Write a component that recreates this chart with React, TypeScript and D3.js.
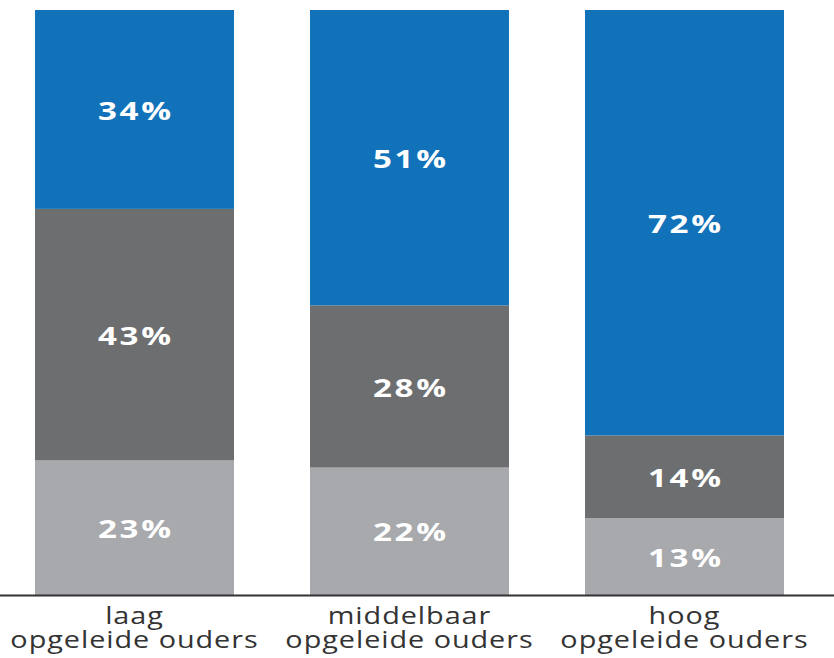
import React, { useEffect, useRef } from 'react';
import * as d3 from 'd3';

// categorieën (twee regels per label)
const groups = ['laag', 'middelbaar', 'hoog'];
const groupSub = 'opgeleide ouders';
const seriesKeys = ['laag', 'middel', 'hoog'];
const lowValues = [23, 22, 13];
const midValues = [43, 28, 14];
const highValues = [34, 51, 72];
const seriesColors = ['#a7a9ac', '#6d6e70', '#1172b9'];

export default function App() {
  const svgRef = useRef<SVGSVGElement>(null);
  const width = 834;
  const height = 658;

  useEffect(() => {
    if (!svgRef.current) return;
    const svg = d3.select(svgRef.current);
    svg.selectAll('*').remove();

    const rows = groups.map((g, i) => ({
      group: g,
      laag: lowValues[i],
      middel: midValues[i],
      hoog: highValues[i],
    }));

    // elke kolom vult de volledige hoogte
    const stack = d3.stack<any>().keys(seriesKeys).offset(d3.stackOffsetExpand);
    const layers = stack(rows);

    const x = d3.scaleBand()
      .domain(groups)
      .range([35, 784])
      .paddingInner(76 / 275)
      .paddingOuter(0);

    const y = d3.scaleLinear().domain([0, 1]).range([595, 10]);

    // de tekst in het origineel is horizontaal uitgerekt
    const stretch = 1.3;
    const labelStretch = 1.2;

    const layerG = svg.selectAll('.layer')
      .data(layers)
      .enter()
      .append('g')
      .attr('class', 'layer')
      .attr('fill', (_, i) => seriesColors[i]);

    layerG.selectAll('rect')
      .data(d => d.map(p => ({ p, key: d.key })))
      .enter()
      .append('rect')
      .attr('x', d => x(d.p.data.group)!)
      .attr('width', x.bandwidth())
      .attr('y', d => y(d.p[1]))
      .attr('height', d => y(d.p[0]) - y(d.p[1]));

    layerG.selectAll('text')
      .data(d => d.map(p => ({ p, key: d.key })))
      .enter()
      .append('text')
      .attr('transform', d => {
        const cx = x(d.p.data.group)! + x.bandwidth() / 2;
        const cy = (y(d.p[0]) + y(d.p[1])) / 2;
        return `translate(${cx},${cy}) scale(${stretch},1)`;
      })
      .attr('x', 1)
      .attr('dy', '0.4em')
      .attr('text-anchor', 'middle')
      .style('font-family', '"Open Sans", "Noto Sans", sans-serif')
      .style('font-weight', 700)
      .style('font-size', '25.5px')
      .style('letter-spacing', '2px')
      .style('fill', '#ffffff')
      .text(d => `${d.p.data[d.key]}%`);

    // as-lijn
    svg.append('line')
      .attr('x1', 0)
      .attr('x2', width)
      .attr('y1', 595.5)
      .attr('y2', 595.5)
      .style('stroke', '#333333')
      .style('stroke-width', 2);

    const labels = svg.selectAll('.cat-label')
      .data(groups)
      .enter()
      .append('text')
      .attr('class', 'cat-label')
      .attr('text-anchor', 'middle')
      .attr('transform', d => `translate(${x(d)! + x.bandwidth() / 2},0) scale(${labelStretch},1)`)
      .style('font-family', '"Open Sans", "Noto Sans", sans-serif')
      .style('font-size', '24px')
      .style('letter-spacing', '0.8px')
      .style('fill', '#333333');

    labels.append('tspan')
      .attr('x', 0)
      .attr('y', 624)
      .text(d => d);
    labels.append('tspan')
      .attr('x', 0)
      .attr('y', 648)
      .text(groupSub);
  }, []);

  return (
    <div style={{ position: 'absolute', left: 0, top: 0, width, height, background: '#fff' }}>
      <svg ref={svgRef} width={width} height={height} style={{ display: 'block' }}></svg>
    </div>
  );
}
